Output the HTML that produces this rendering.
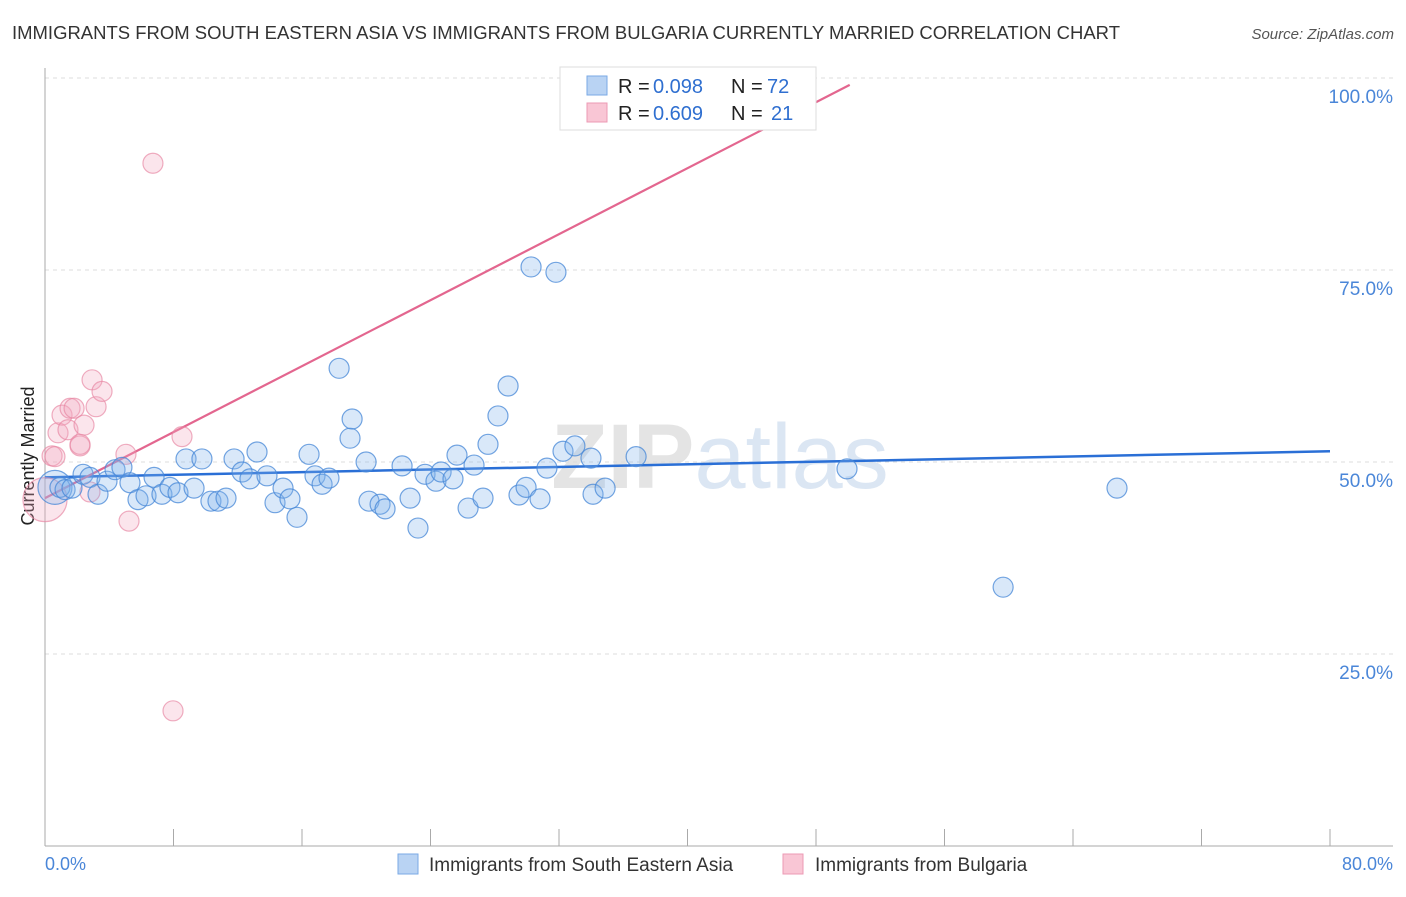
<!DOCTYPE html>
<html><head><meta charset="utf-8"><style>
body{margin:0;background:#fff;font-family:"Liberation Sans",sans-serif;}
svg text{font-family:"Liberation Sans",sans-serif;}
</style></head><body>
<svg id="chart" width="1406" height="892" viewBox="0 0 1406 892" xmlns="http://www.w3.org/2000/svg">
<text x="12" y="39" font-size="18" fill="#333" textLength="1108" lengthAdjust="spacingAndGlyphs">IMMIGRANTS FROM SOUTH EASTERN ASIA VS IMMIGRANTS FROM BULGARIA CURRENTLY MARRIED CORRELATION CHART</text>
<text x="1394" y="39" font-size="15" fill="#555" text-anchor="end" font-style="italic">Source: ZipAtlas.com</text>
<text x="720" y="488" font-size="92" fill="#e4e4e4" text-anchor="middle" font-family="Liberation Serif"><tspan font-weight="bold">ZIP</tspan><tspan fill="#dbe6f3">atlas</tspan></text>
<text transform="translate(34,456) rotate(-90)" font-size="18" fill="#222" text-anchor="middle">Currently Married</text>
<g id="grid"></g><g id="axes"></g><g id="trends"></g><g id="points"></g>
<g>
<rect x="560" y="67" width="256" height="63" fill="#fff" stroke="#ddd"/>
<rect x="587" y="76" width="20" height="19" fill="#b9d3f3" stroke="#7aaae6"/>
<rect x="587" y="103" width="20" height="19" fill="#f9c6d5" stroke="#ec9ab4"/>
<text x="618" y="93" font-size="20" fill="#222">R =</text>
<text x="653" y="93" font-size="20" fill="#2f6fd0">0.098</text>
<text x="731" y="93" font-size="20" fill="#222">N =</text>
<text x="767" y="93" font-size="20" fill="#2f6fd0">72</text>
<text x="618" y="120" font-size="20" fill="#222">R =</text>
<text x="653" y="120" font-size="20" fill="#2f6fd0">0.609</text>
<text x="731" y="120" font-size="20" fill="#222">N =</text>
<text x="771" y="120" font-size="20" fill="#2f6fd0">21</text>
</g>
<g>
<rect x="398" y="854" width="20" height="20" fill="#b9d3f3" stroke="#7aaae6"/>
<text x="429" y="871" font-size="19" fill="#333">Immigrants from South Eastern Asia</text>
<rect x="783" y="854" width="20" height="20" fill="#f9c6d5" stroke="#ec9ab4"/>
<text x="815" y="871" font-size="19" fill="#333">Immigrants from Bulgaria</text>
</g>
<text x="45" y="870" font-size="18" fill="#4a86d8">0.0%</text>
<text x="1393" y="870" font-size="18" fill="#4a86d8" text-anchor="end">80.0%</text>
</svg>
<script>
const yTicks=[100,75,50,25];
const yTickLabels=["100.0%","75.0%","50.0%","25.0%"];
const xTicks=[0,8,16,24,32,40,48,56,64,72,80];
const blueX=[0.62,0.93,1.25,1.68,2.37,2.80,3.30,3.86,4.36,4.79,5.29,5.79,6.29,6.79,7.28,7.78,8.28,8.78,9.28,9.77,10.33,10.77,11.27,11.77,12.27,12.76,13.20,13.82,14.32,14.82,15.25,15.69,16.44,16.81,17.25,17.68,18.31,18.99,19.12,19.99,20.17,20.86,21.17,22.23,22.73,23.22,23.66,24.34,24.66,25.40,25.65,26.34,26.71,27.27,27.58,28.20,28.83,29.51,29.95,30.26,30.82,31.25,31.81,32.25,32.99,33.99,34.12,34.87,36.80,49.93,59.65,66.74];
const blueY=[46.7,46.7,46.4,46.6,48.4,48.0,45.8,47.5,49.0,49.3,47.3,45.1,45.6,48.0,45.8,46.7,46.0,50.4,46.6,50.4,44.9,44.9,45.3,50.4,48.7,47.8,51.3,48.2,44.7,46.6,45.2,42.8,51.0,48.2,47.1,47.9,62.2,53.1,55.6,50.0,44.9,44.5,43.9,49.5,45.3,41.4,48.4,47.5,48.7,47.8,50.9,44.0,49.6,45.3,52.3,56.0,59.9,45.7,46.7,75.4,45.2,49.2,74.7,51.4,52.1,50.5,45.8,46.6,50.7,49.1,33.7,46.6];
const pinkX=[0,0.44,0.62,0.81,1.06,1.43,1.56,1.81,2.18,2.43,2.93,3.18,3.55,2.80,5.04,5.23,6.72,8.53,7.97,47.13,2.18];
const pinkY=[45.1,50.8,50.7,53.8,56.1,54.2,57.0,57.0,52.1,54.8,60.7,57.2,59.2,46.1,51.0,42.3,88.9,53.3,17.6,99.7,52.3];
const blueTrend=[[0,48.0],[80,51.4]];
const pinkTrend=[[0,45.3],[50.1,99.1]];
const NS="http://www.w3.org/2000/svg";
const sx=v=>45+v/80*1285;
const sy=v=>846-v/100*768;
function mk(tag,attrs,parent){const e=document.createElementNS(NS,tag);for(const k in attrs)e.setAttribute(k,attrs[k]);parent.appendChild(e);return e;}
const grid=document.getElementById('grid'),axes=document.getElementById('axes'),trends=document.getElementById('trends'),pts=document.getElementById('points');
yTicks.forEach((t,i)=>{
 const l=mk('line',{x1:45,x2:1393,y1:sy(t),y2:sy(t),stroke:'#ddd','stroke-dasharray':'4,4'},grid);
 
 
 const tx=mk('text',{x:1393,y:sy(t)+25,'font-size':19,fill:'#4a86d8','text-anchor':'end'},grid);
 tx.textContent=yTickLabels[i];
 
 
});
const ya=mk('line',{x1:45,x2:45,y1:68,y2:846,stroke:'#aaa'},axes);


const xa=mk('line',{x1:45,x2:1393,y1:846,y2:846,stroke:'#aaa'},axes);


xTicks.forEach(t=>{
 const l=mk('line',{x1:sx(t),x2:sx(t),y1:829,y2:846,stroke:'#aaa'},axes);
 
 
});
function drawPts(X,Y,fill,stroke,name){
 X.forEach((x,i)=>{
  const r=i===0?(name==='pink-point'?22:17):10;
  const c=mk('circle',{cx:sx(x),cy:sy(Y[i]),r:r,fill:fill,stroke:stroke,'stroke-width':1.2},pts);
  
  
 });
}
drawPts(pinkX,pinkY,'rgba(243,168,192,0.3)','rgba(230,130,160,0.65)','pink-point');
drawPts(blueX,blueY,'rgba(130,178,236,0.3)','rgba(70,135,215,0.75)','blue-point');
const bt=mk('line',{x1:sx(blueTrend[0][0]),y1:sy(blueTrend[0][1]),x2:sx(blueTrend[1][0]),y2:sy(blueTrend[1][1]),stroke:'#2a6fd6','stroke-width':2.5},trends);


const pt=mk('line',{x1:sx(pinkTrend[0][0]),y1:sy(pinkTrend[0][1]),x2:sx(pinkTrend[1][0]),y2:sy(pinkTrend[1][1]),stroke:'#e3668f','stroke-width':2.2},trends);


</script>
</body></html>
